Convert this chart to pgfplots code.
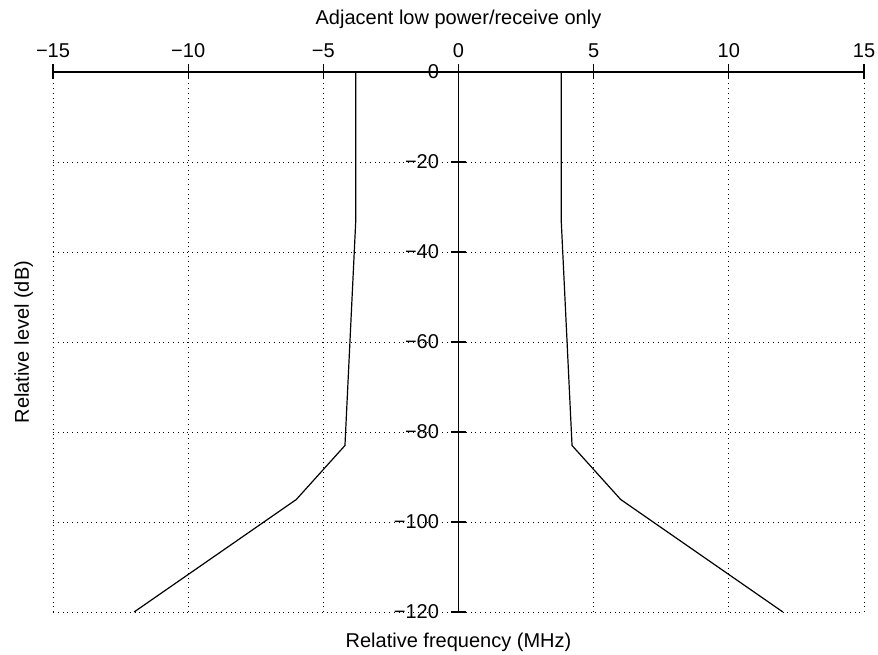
\documentclass[border=0pt]{standalone}
\usepackage{fontspec}
\setmainfont{Liberation Sans}
\usepackage{pgfplots}
\pgfplotsset{compat=1.18}
\begin{document}
\begin{tikzpicture}
\useasboundingbox (-26.5pt,-21pt) rectangle (412.5pt,306pt);
\begin{axis}[
 at={(0,0)}, anchor=south west,
 scale only axis, width=405.5pt, height=270pt,
 xmin=-15, xmax=15, ymin=-120, ymax=0,
 axis x line=top, axis y line=center,
 axis line style={line width=0.7pt, -},
 xtick={-15,-10,...,15}, xticklabels={−15,−10,−5,0,5,10,15},
 ytick={-120,-100,...,0}, yticklabels={−120,−100,−80,−60,−40,−20,0},
 tick align=center, major tick length=7.5pt, tick style={line width=0.6pt, black},
 hide obscured x ticks=false, hide obscured y ticks=false,
 grid=major, major grid style={dotted, black, line width=0.4pt},
 xticklabel style={anchor=base, yshift=3.5pt},
 yticklabel style={anchor=east, xshift=-2.5pt},
 title={Adjacent low power/receive only},
 title style={at={(axis description cs:0.5,1)}, anchor=base, yshift=17.5pt},
 xlabel={Relative frequency (MHz)},
 xlabel style={at={(axis description cs:0.5,0)}, anchor=base, yshift=-17.5pt},
 ylabel={Relative level (dB)},
 ylabel style={at={(axis description cs:-0.0296,0.5)}, rotate=90, anchor=base},
]
\addplot[black, line width=0.6pt] coordinates {(-3.8,0) (-3.8,-33) (-4.2,-83) (-6,-95) (-12,-120)};
\addplot[black, line width=0.6pt] coordinates {(3.8,0) (3.8,-33) (4.2,-83) (6,-95) (12,-120)};
\end{axis}
\end{tikzpicture}
\end{document}
